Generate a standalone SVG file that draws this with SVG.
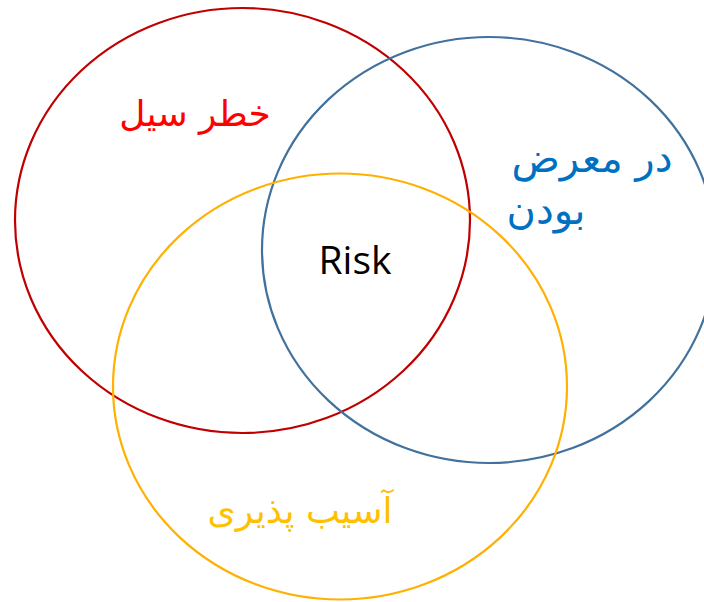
<svg xmlns="http://www.w3.org/2000/svg" width="704" height="602" viewBox="0 0 704 602">
  <style>
    .ring { fill: none; stroke-width: 2.2; }
    .fa { font-family: "DejaVu Sans", "Noto Sans", sans-serif; font-size: 36px; }
    .fa-lg { font-size: 40px; }
    .en { font-family: "Open Sans", "Liberation Sans", sans-serif; font-size: 39px; fill: #000; }
  </style>
  <rect width="704" height="602" fill="#fff"/>
  <g id="hazard">
    <ellipse class="ring" cx="242.5" cy="220.5" rx="227.5" ry="212.5" stroke="#C00000"/>
    <text class="fa" x="195" y="126" text-anchor="middle" fill="#FF0000">خطر سیل</text>
  </g>
  <g id="exposure">
    <ellipse class="ring" cx="489" cy="250" rx="227" ry="213" stroke="#41719C"/>
    <text class="fa fa-lg" x="592" y="172" text-anchor="middle" fill="#0070C0">در معرض</text>
    <text class="fa fa-lg" x="546" y="224" text-anchor="middle" fill="#0070C0">بودن</text>
  </g>
  <g id="vulnerability">
    <ellipse class="ring" cx="340" cy="386.5" rx="227" ry="213" stroke="#FFB000"/>
    <text class="fa" x="300" y="523" text-anchor="middle" fill="#FFC000">آسیب پذیری</text>
  </g>
  <g id="risk">
    <text class="en" x="355" y="274" text-anchor="middle">Risk</text>
  </g>
</svg>
